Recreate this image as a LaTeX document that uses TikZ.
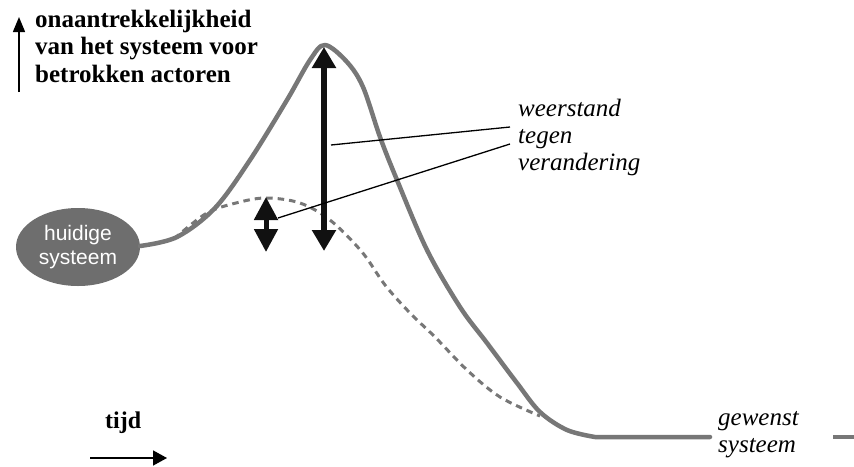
\documentclass[tikz,border=0pt]{standalone}
\usepackage{fontspec}
\setmainfont{Liberation Serif}
\newfontfamily\arialfont{Liberation Sans}
\usetikzlibrary{arrows.meta,shapes.geometric}
\definecolor{curvegray}{HTML}{777777}
\definecolor{ellgray}{HTML}{6E6E6E}
\definecolor{arrowblack}{HTML}{111111}
\tikzset{
  curve/.style={draw=curvegray, line width=4.5pt, line cap=round, line join=round},
  dashcurve/.style={draw=curvegray, line width=3pt, dash pattern=on 6.5pt off 5pt},
  bigarrow/.style={draw=arrowblack, line width=6.5pt,
     {Triangle[width=23pt,length=21pt]}-{Triangle[width=23pt,length=21pt]}},
  smallarrow/.style={draw=arrowblack, line width=5pt,
     {Triangle[width=23pt,length=23pt]}-{Triangle[width=23pt,length=23pt]}},
  leader/.style={draw=black, line width=1.3pt},
  axisarrow/.style={draw=black, line width=1.5pt, -{Triangle[width=12pt,length=15pt]}},
  boldlabel/.style={inner sep=0pt, align=left, font=\bfseries\fontsize{25}{27.5}\selectfont},
  itallabel/.style={inner sep=0pt, align=left, font=\itshape\fontsize{25}{27}\selectfont},
}
\begin{document}
\begin{tikzpicture}[x=1pt, y=-1pt]
\useasboundingbox (0,0) rectangle (854,466);
\fill[white] (0,0) rectangle (854,466);

% y axis
\coordinate (ybot) at (19,92);
\coordinate (ytop) at (19,17);
\draw[axisarrow] (ybot) -- (ytop);
\node[boldlabel, anchor=base west] (title) at (35,82)
  {onaantrekkelijkheid\\van het systeem voor\\betrokken actoren};

% current system
\node[ellipse, fill=ellgray, minimum width=124pt, minimum height=78pt, inner sep=0pt,
      text=white, align=center, font=\arialfont\fontsize{21}{24}\selectfont] (huidige) at (78,247)
  {huidige\\systeem};

% dashed curve
\draw[dashcurve] plot[smooth, tension=0.55] coordinates {
  (174,239) (207,213) (240,202) (267,198) (300,203) (330,220) (362,252)
  (385,285) (410,313) (435,337) (467,370) (500,397) (540,416)};

% solid curve
\draw[curve] (huidige.east) plot[smooth, tension=0.55] coordinates {
  (140,246) (177,237) (215,208) (250,160) (287,100) (310,60) (325,45) (347,62)
  (363,87) (380,137) (397,180) (427,250) (460,307) (487,343) (517,383)
  (540,412) (567,430) (595,437)} -- (710,437);
\coordinate (stubA) at (833,437);
\coordinate (stubB) at (854,437);
\draw[curve, line cap=butt] (stubA) -- (stubB);

% resistance arrows
\coordinate (bigtop) at (324,47);
\coordinate (bigbot) at (324,251);
\draw[bigarrow] (bigtop) -- (bigbot);
\coordinate (smalltop) at (266,197);
\coordinate (smallbot) at (266,252);
\draw[smallarrow] (smalltop) -- (smallbot);

% label and leaders
\node[itallabel, anchor=base west] (weerstand) at (518,170)
  {weerstand\\tegen\\verandering};
\coordinate (l1a) at (331,145);
\coordinate (l1b) at (510,127);
\coordinate (l2a) at (278,218);
\coordinate (l2b) at (510,144);
\draw[leader] (l1a) -- (l1b);
\draw[leader] (l2a) -- (l2b);

% desired system
\node[itallabel, anchor=base west] (gewenst) at (718,452) {gewenst\\systeem};

% time
\node[boldlabel, font=\bfseries\fontsize{24}{27}\selectfont, anchor=base west] (tijd) at (105,428) {tijd};
\coordinate (tstart) at (90,458);
\coordinate (tend) at (167,458);
\draw[axisarrow, -{Triangle[width=15pt,length=14pt]}] (tstart) -- (tend);
\end{tikzpicture}
\end{document}
